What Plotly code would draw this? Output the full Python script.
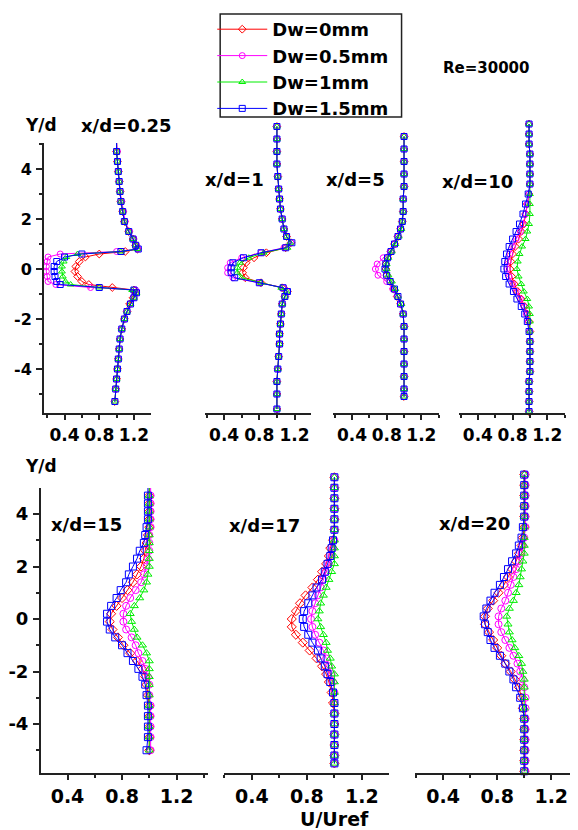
import plotly.graph_objects as go

# ---------------- data (U/Uref vs Y/d) ----------------
SERIES = ["Dw=0mm", "Dw=0.5mm", "Dw=1mm", "Dw=1.5mm"]
COLORS = ["#FF0000", "#FF00FF", "#00EE00", "#0000FF"]
SYMBOLS = ["diamond-open", "circle-open", "triangle-up-open", "square-open"]
PANEL_TITLES = ["x/d=0.25", "x/d=1", "x/d=5", "x/d=10", "x/d=15", "x/d=17", "x/d=20"]
X_TICKS = [0.4, 0.8, 1.2]
X_MINOR = [0.2, 0.6, 1.0, 1.4]
Y_TICKS = [-4, -2, 0, 2, 4]
Y_MINOR = [-5, -3, -1, 1, 3, 5]

# x/d = 0.25
Y1 = [5.1, 4.7, 4.3, 3.9, 3.5, 3.1, 2.7, 2.3, 1.9, 1.5, 1.2, 0.95, 0.8, 0.7, 0.6, 0.48, 0.3, 0.1,
      -0.1, -0.3, -0.5, -0.62, -0.74, -0.84, -0.95, -1.15, -1.4, -1.7, -2.0, -2.4, -2.8, -3.2,
      -3.6, -4.0, -4.4, -4.8, -5.3]
R1 = [1.00, 1.00, 1.01, 1.02, 1.03, 1.04, 1.05, 1.07, 1.09, 1.14, 1.19, 1.22, 1.24, 1.10, 0.80, 0.64,
      0.57, 0.53, 0.52, 0.55, 0.60, 0.68, 0.95, 1.20, 1.22, 1.19, 1.15, 1.12, 1.09, 1.06, 1.04, 1.03,
      1.02, 1.01, 1.00, 0.99, 0.98]
M1 = [1.00, 1.01, 1.01, 1.02, 1.03, 1.04, 1.06, 1.08, 1.10, 1.15, 1.20, 1.23, 1.25, 1.00, 0.35, 0.21,
      0.20, 0.19, 0.19, 0.20, 0.21, 0.30, 0.70, 1.22, 1.23, 1.20, 1.16, 1.12, 1.09, 1.06, 1.04, 1.03,
      1.02, 1.01, 1.00, 0.99, 0.98]
G1 = [1.00, 1.00, 1.01, 1.02, 1.03, 1.04, 1.05, 1.07, 1.09, 1.14, 1.19, 1.22, 1.24, 1.05, 0.55, 0.42,
      0.39, 0.37, 0.37, 0.38, 0.41, 0.47, 0.80, 1.18, 1.23, 1.20, 1.16, 1.12, 1.09, 1.06, 1.04, 1.03,
      1.02, 1.01, 1.00, 0.99, 0.98]
B1 = [1.00, 1.00, 1.01, 1.02, 1.03, 1.04, 1.05, 1.07, 1.09, 1.14, 1.19, 1.22, 1.25, 1.05, 0.60, 0.40,
      0.31, 0.28, 0.28, 0.29, 0.31, 0.35, 0.80, 1.20, 1.23, 1.20, 1.16, 1.12, 1.09, 1.06, 1.04, 1.03,
      1.02, 1.01, 1.00, 0.99, 0.98]

# x/d = 1
Y2 = [5.7, 5.2, 4.7, 4.2, 3.7, 3.2, 2.8, 2.4, 2.0, 1.6, 1.3, 1.05, 0.85, 0.65, 0.45, 0.25, 0.05, -0.15,
      -0.35, -0.55, -0.75, -0.9, -1.1, -1.4, -1.8, -2.2, -2.6, -3.0, -3.5, -4.0, -4.5, -5.0, -5.6]
R2 = [1.00, 1.00, 1.00, 1.00, 1.01, 1.02, 1.03, 1.04, 1.06, 1.08, 1.11, 1.16, 1.10, 0.88, 0.74, 0.65,
      0.62, 0.61, 0.64, 0.82, 1.06, 1.12, 1.09, 1.06, 1.05, 1.04, 1.03, 1.03, 1.02, 1.01, 1.00, 1.00, 1.00]
M2 = [1.00, 1.00, 1.00, 1.00, 1.01, 1.02, 1.03, 1.04, 1.06, 1.08, 1.11, 1.16, 1.08, 0.82, 0.60, 0.47,
      0.44, 0.44, 0.50, 0.80, 1.08, 1.12, 1.09, 1.06, 1.05, 1.04, 1.03, 1.03, 1.02, 1.01, 1.00, 1.00, 1.00]
G2 = [1.00, 1.00, 1.00, 1.00, 1.01, 1.02, 1.03, 1.04, 1.06, 1.08, 1.11, 1.15, 1.12, 0.85, 0.68, 0.58,
      0.55, 0.55, 0.60, 0.82, 1.05, 1.11, 1.09, 1.06, 1.05, 1.04, 1.03, 1.03, 1.02, 1.01, 1.00, 1.00, 1.00]
B2 = [1.00, 1.00, 1.00, 1.00, 1.01, 1.02, 1.03, 1.04, 1.06, 1.08, 1.11, 1.17, 1.10, 0.82, 0.62, 0.50,
      0.48, 0.48, 0.52, 0.80, 1.07, 1.12, 1.09, 1.06, 1.05, 1.04, 1.03, 1.03, 1.02, 1.01, 1.00, 1.00, 1.00]

# x/d = 5
Y3 = [5.3, 4.8, 4.3, 3.8, 3.3, 2.8, 2.3, 1.9, 1.6, 1.3, 1.0, 0.7, 0.45, 0.2, 0.0, -0.25, -0.5, -0.8,
      -1.1, -1.4, -1.8, -2.3, -2.8, -3.3, -3.8, -4.3, -4.8, -5.1]
R3 = [1.00, 1.00, 1.00, 1.00, 1.00, 0.99, 0.99, 0.98, 0.96, 0.93, 0.89, 0.85, 0.81, 0.79, 0.79, 0.80,
      0.84, 0.88, 0.92, 0.96, 0.99, 1.00, 1.00, 1.00, 1.00, 1.00, 1.00, 1.00]
M3 = [1.00, 1.00, 1.00, 1.00, 1.00, 0.99, 0.99, 0.98, 0.96, 0.93, 0.89, 0.84, 0.76, 0.69, 0.67, 0.70,
      0.80, 0.87, 0.92, 0.96, 0.99, 1.00, 1.00, 1.00, 1.00, 1.00, 1.00, 1.00]
G3 = [1.00, 1.00, 1.00, 1.00, 1.00, 0.99, 0.99, 0.98, 0.97, 0.94, 0.90, 0.86, 0.82, 0.80, 0.80, 0.82,
      0.86, 0.90, 0.93, 0.97, 0.99, 1.00, 1.00, 1.00, 1.00, 1.00, 1.00, 1.00]
B3 = [1.00, 1.00, 1.00, 1.00, 1.00, 0.99, 0.99, 0.98, 0.96, 0.93, 0.89, 0.85, 0.81, 0.79, 0.78, 0.80,
      0.84, 0.89, 0.93, 0.96, 0.99, 1.00, 1.00, 1.00, 1.00, 1.00, 1.00, 1.00]

# x/d = 10
Y4 = [5.8, 5.4, 5.0, 4.6, 4.2, 3.8, 3.4, 3.0, 2.6, 2.2, 1.8, 1.5, 1.2, 0.9, 0.6, 0.3, 0.0, -0.3, -0.6,
      -0.9, -1.2, -1.5, -1.8, -2.1, -2.5, -2.9, -3.3, -3.7, -4.1, -4.5, -4.9, -5.3, -5.7]
R4 = [0.99, 0.99, 0.99, 1.00, 1.00, 1.00, 1.00, 0.99, 0.97, 0.95, 0.93, 0.90, 0.87, 0.83, 0.80, 0.78,
      0.77, 0.79, 0.82, 0.86, 0.90, 0.94, 0.97, 0.99, 1.00, 1.00, 1.00, 1.00, 1.00, 0.99, 0.99, 0.99, 0.99]
M4 = [0.99, 0.99, 0.99, 1.00, 1.00, 1.00, 1.00, 0.99, 0.97, 0.95, 0.92, 0.89, 0.84, 0.80, 0.77, 0.75,
      0.74, 0.76, 0.80, 0.84, 0.89, 0.93, 0.96, 0.98, 1.00, 1.00, 1.00, 1.00, 1.00, 0.99, 0.99, 0.99, 0.99]
G4 = [0.99, 0.99, 0.99, 1.00, 1.00, 1.00, 1.00, 1.00, 1.00, 1.00, 0.99, 0.97, 0.95, 0.91, 0.88, 0.86,
      0.85, 0.87, 0.90, 0.93, 0.97, 0.99, 1.00, 1.00, 1.00, 1.00, 1.00, 1.00, 1.00, 0.99, 0.99, 0.99, 0.99]
B4 = [0.99, 0.99, 0.99, 1.00, 1.00, 1.00, 1.00, 0.98, 0.95, 0.92, 0.88, 0.84, 0.80, 0.76, 0.73, 0.71,
      0.70, 0.72, 0.76, 0.81, 0.85, 0.90, 0.94, 0.97, 0.99, 1.00, 1.00, 1.00, 1.00, 0.99, 0.99, 0.99, 0.99]

# x/d = 15
Y5 = [5.0, 4.7, 4.4, 4.1, 3.8, 3.5, 3.2, 2.9, 2.6, 2.3, 2.0, 1.7, 1.4, 1.1, 0.8, 0.5, 0.2, -0.1, -0.4,
      -0.7, -1.0, -1.3, -1.6, -1.9, -2.2, -2.5, -2.9, -3.3, -3.7, -4.1, -4.5, -5.0]
R5 = [1.00, 1.00, 1.00, 1.00, 1.00, 1.00, 0.99, 0.98, 0.97, 0.96, 0.94, 0.91, 0.88, 0.84, 0.80, 0.76,
      0.72, 0.71, 0.73, 0.77, 0.81, 0.86, 0.91, 0.95, 0.97, 0.98, 0.99, 1.00, 1.00, 1.00, 1.00, 1.00]
M5 = [1.01, 1.01, 1.01, 1.01, 1.01, 1.01, 1.00, 1.00, 1.00, 0.99, 0.98, 0.96, 0.94, 0.90, 0.86, 0.83,
      0.81, 0.81, 0.83, 0.87, 0.90, 0.92, 0.95, 0.97, 0.99, 1.00, 1.00, 1.01, 1.01, 1.01, 1.01, 1.01]
G5 = [1.00, 1.00, 1.00, 1.00, 1.00, 1.00, 1.00, 1.00, 1.00, 1.00, 1.00, 0.99, 0.98, 0.96, 0.93, 0.89,
      0.86, 0.87, 0.89, 0.91, 0.95, 0.98, 1.00, 1.00, 1.00, 1.00, 1.00, 1.00, 1.00, 1.00, 1.00, 1.00]
B5 = [0.99, 0.99, 0.99, 0.99, 0.99, 0.98, 0.97, 0.96, 0.93, 0.91, 0.88, 0.85, 0.83, 0.79, 0.76, 0.72,
      0.69, 0.69, 0.71, 0.75, 0.80, 0.84, 0.88, 0.92, 0.95, 0.97, 0.98, 0.99, 0.99, 0.99, 0.99, 0.98]

# x/d = 17
Y6 = [5.4, 5.0, 4.6, 4.2, 3.8, 3.4, 3.0, 2.7, 2.4, 2.1, 1.8, 1.5, 1.2, 0.9, 0.6, 0.3, 0.0, -0.3, -0.6,
      -0.9, -1.2, -1.5, -1.8, -2.1, -2.4, -2.8, -3.2, -3.6, -4.0, -4.4, -4.8, -5.2, -5.5]
R6 = [1.00, 1.00, 1.00, 1.00, 1.00, 1.00, 0.99, 0.97, 0.96, 0.94, 0.91, 0.88, 0.84, 0.79, 0.75, 0.72,
      0.69, 0.69, 0.72, 0.77, 0.82, 0.87, 0.91, 0.94, 0.96, 0.98, 0.99, 1.00, 1.00, 1.00, 1.00, 1.00, 1.00]
M6 = [1.00, 1.00, 1.00, 1.00, 1.00, 1.00, 1.00, 0.99, 0.98, 0.96, 0.94, 0.92, 0.90, 0.88, 0.86, 0.84,
      0.83, 0.84, 0.86, 0.89, 0.92, 0.94, 0.96, 0.98, 0.99, 1.00, 1.00, 1.00, 1.00, 1.00, 1.00, 1.00, 1.00]
G6 = [1.00, 1.00, 1.00, 1.00, 1.00, 1.00, 1.00, 1.00, 1.00, 1.00, 0.98, 0.96, 0.94, 0.92, 0.90, 0.89,
      0.88, 0.90, 0.92, 0.94, 0.95, 0.97, 0.98, 1.00, 1.00, 1.00, 1.00, 1.00, 1.00, 1.00, 1.00, 1.00, 1.00]
B6 = [1.00, 1.00, 1.00, 1.00, 1.00, 1.00, 0.99, 0.98, 0.97, 0.95, 0.93, 0.91, 0.87, 0.84, 0.81, 0.78,
      0.77, 0.78, 0.81, 0.84, 0.88, 0.90, 0.93, 0.95, 0.97, 0.99, 1.00, 1.00, 1.00, 1.00, 1.00, 1.00, 1.00]

# x/d = 20
Y7 = [5.5, 5.1, 4.7, 4.3, 3.9, 3.5, 3.1, 2.8, 2.5, 2.2, 1.9, 1.6, 1.3, 1.0, 0.7, 0.4, 0.1, -0.2, -0.5,
      -0.8, -1.1, -1.4, -1.7, -2.0, -2.3, -2.6, -3.0, -3.4, -3.8, -4.2, -4.6, -5.0, -5.4, -5.8]
R7 = [1.00, 1.00, 1.00, 1.00, 1.00, 1.00, 0.99, 0.98, 0.96, 0.94, 0.91, 0.88, 0.85, 0.81, 0.77, 0.73,
      0.71, 0.71, 0.74, 0.77, 0.80, 0.83, 0.86, 0.90, 0.93, 0.96, 0.98, 0.99, 1.00, 1.00, 1.00, 1.00, 1.00, 1.00]
M7 = [1.01, 1.01, 1.01, 1.01, 1.01, 1.01, 1.00, 0.99, 0.98, 0.96, 0.94, 0.92, 0.90, 0.88, 0.86, 0.83,
      0.81, 0.81, 0.83, 0.86, 0.89, 0.92, 0.95, 0.97, 0.99, 1.00, 1.01, 1.01, 1.01, 1.01, 1.01, 1.01, 1.01, 1.01]
G7 = [1.00, 1.00, 1.00, 1.00, 1.00, 1.00, 1.00, 1.00, 1.00, 0.99, 0.98, 0.97, 0.96, 0.94, 0.92, 0.89,
      0.87, 0.88, 0.89, 0.91, 0.93, 0.96, 0.98, 0.99, 1.00, 1.00, 1.00, 1.00, 1.00, 1.00, 1.00, 1.00, 1.00, 1.00]
B7 = [1.00, 1.00, 1.00, 1.00, 1.00, 0.99, 0.98, 0.96, 0.94, 0.91, 0.88, 0.85, 0.82, 0.78, 0.75, 0.72,
      0.70, 0.71, 0.73, 0.75, 0.78, 0.82, 0.86, 0.89, 0.92, 0.94, 0.97, 0.99, 1.00, 1.00, 1.00, 1.00, 1.00, 1.00]

PANELS = [
    (Y1, [R1, M1, G1, B1]),
    (Y2, [R2, M2, G2, B2]),
    (Y3, [R3, M3, G3, B3]),
    (Y4, [R4, M4, G4, B4]),
    (Y5, [R5, M5, G5, B5]),
    (Y6, [R6, M6, G6, B6]),
    (Y7, [R7, M7, G7, B7]),
]

# ---------------- layout geometry (page pixels) ----------------
PAGE_W, PAGE_H = 578, 830
OFF = 8                      # default page margin around the figure
W, H = PAGE_W - OFF, PAGE_H - OFF
FONT = "DejaVu Sans"
AX = "#222222"

def px(x):
    return (x - OFF) / W

def py(y):
    return 1 - (y - OFF) / H

def xdom(l, r):
    return [px(l), px(r)]

def ydom(top, bottom):
    return [py(bottom), py(top)]

def xr(l, r, p04, p12):
    s = (p12 - p04) / 0.8
    return [0.4 - (p04 - l) / s, 1.2 + (r - p12) / s]

def yr(top, bottom, p0, s):
    return [(p0 - bottom) / s, (p0 - top) / s]

# (left, right, px of 0.4, px of 1.2, y-top, y-bottom, px of 0, px per unit, show y axis)
GEOM = [
    (39, 147, 60, 130, 143, 413, 269, 25.0, True),
    (202, 309, 221, 292, 112, 413, 269, 25.0, False),
    (331, 438, 350, 420, 112, 413, 269, 25.0, False),
    (458, 565, 477, 547, 112, 413, 269, 25.0, False),
    (36, 205, 63, 173, 488, 773, 619, 26.25, True),
    (221, 387, 249, 360, 466, 773, 619, 26.25, False),
    (414, 577, 442, 551, 466, 773, 619, 26.25, False),
]

fig = go.Figure()
layout = {}
for i, ((yv, us), g) in enumerate(zip(PANELS, GEOM)):
    l, r, p04, p12, top, bot, p0, s, showy = g
    n = "" if i == 0 else str(i + 1)
    top_row = i < 4
    tick_size = 17 if top_row else 19
    for k in range(4):
        fig.add_trace(go.Scatter(
            x=us[k], y=yv, mode="lines+markers",
            name=SERIES[k], legendgroup=SERIES[k], showlegend=(i == 0),
            line=dict(color=COLORS[k], width=1),
            marker=dict(symbol=SYMBOLS[k], size=6 if top_row else 7, color=COLORS[k],
                        line=dict(color=COLORS[k], width=1)),
            xaxis="x" + n, yaxis="y" + n, cliponaxis=False,
        ))
    layout["xaxis" + n] = dict(
        domain=xdom(l, r), range=xr(l, r, p04, p12), anchor="y" + n,
        showline=True, linecolor=AX, linewidth=1.5, showgrid=False, zeroline=False,
        ticks="outside", ticklen=5, tickwidth=1.5, tickcolor=AX,
        tickmode="array", tickvals=X_TICKS, ticktext=["%.1f" % v for v in X_TICKS],
        minor=dict(ticks="outside", ticklen=3, tickwidth=1.5, tickcolor=AX,
                   tickmode="array", tickvals=X_MINOR),
        tickfont=dict(family=FONT, size=tick_size, color="black", weight="bold"),
        ticklabelstandoff=1 if top_row else 0,
        fixedrange=True,
    )
    ya = dict(domain=ydom(top, bot), range=yr(top, bot, p0, s), anchor="x" + n,
              showgrid=False, zeroline=False, fixedrange=True)
    if showy:
        ya.update(showline=True, linecolor=AX, linewidth=1.5,
                  ticks="outside", ticklen=6, tickwidth=1.5, tickcolor=AX,
                  tickmode="array", tickvals=Y_TICKS, ticktext=[str(v) for v in Y_TICKS],
                  minor=dict(ticks="outside", ticklen=3, tickwidth=1.5, tickcolor=AX,
                             tickmode="array", tickvals=Y_MINOR),
                  tickfont=dict(family=FONT, size=16 if top_row else 18, color="black", weight="bold"),
                  ticklabelstandoff=1)
    else:
        ya.update(visible=False)
    layout["yaxis" + n] = ya

def ann(text, cx, cy, size):
    return dict(text=text, x=px(cx), y=py(cy), xref="paper", yref="paper",
                xanchor="center", yanchor="middle", showarrow=False,
                font=dict(family=FONT, size=size, color="black", weight="bold"))

annotations = [
    ann("Y/d", 36, 125, 17),
    ann(PANEL_TITLES[0], 123, 125, 18),
    ann(PANEL_TITLES[1], 231, 180, 18),
    ann(PANEL_TITLES[2], 354, 180, 18),
    ann(PANEL_TITLES[3], 477, 181, 18),
    ann("Re=30000", 485, 68, 15),
    ann("Y/d", 36, 466, 17),
    ann(PANEL_TITLES[4], 82, 524, 18),
    ann(PANEL_TITLES[5], 262, 525, 18),
    ann(PANEL_TITLES[6], 474, 523, 18),
    ann("U/Uref", 332, 819, 19),
]

# legend frame (the legend itself is the real Plotly legend, drawn borderless on top)
legend_box = dict(type="rect", xref="paper", yref="paper",
                  x0=px(217), x1=px(400), y0=py(117), y1=py(14),
                  line=dict(color=AX, width=1.5), fillcolor="white", layer="below")

fig.update_layout(
    width=W, height=H, margin=dict(l=0, r=0, t=0, b=0),
    paper_bgcolor="white", plot_bgcolor="white",
    showlegend=True,
    legend=dict(x=px(209), y=py(11), xanchor="left", yanchor="top",
                bgcolor="rgba(0,0,0,0)", borderwidth=0,
                font=dict(family=FONT, size=18, color="black", weight="bold"),
                itemwidth=50, tracegroupgap=0),
    shapes=[legend_box],
    annotations=annotations,
    **layout,
)

fig.write_html("out.html")
